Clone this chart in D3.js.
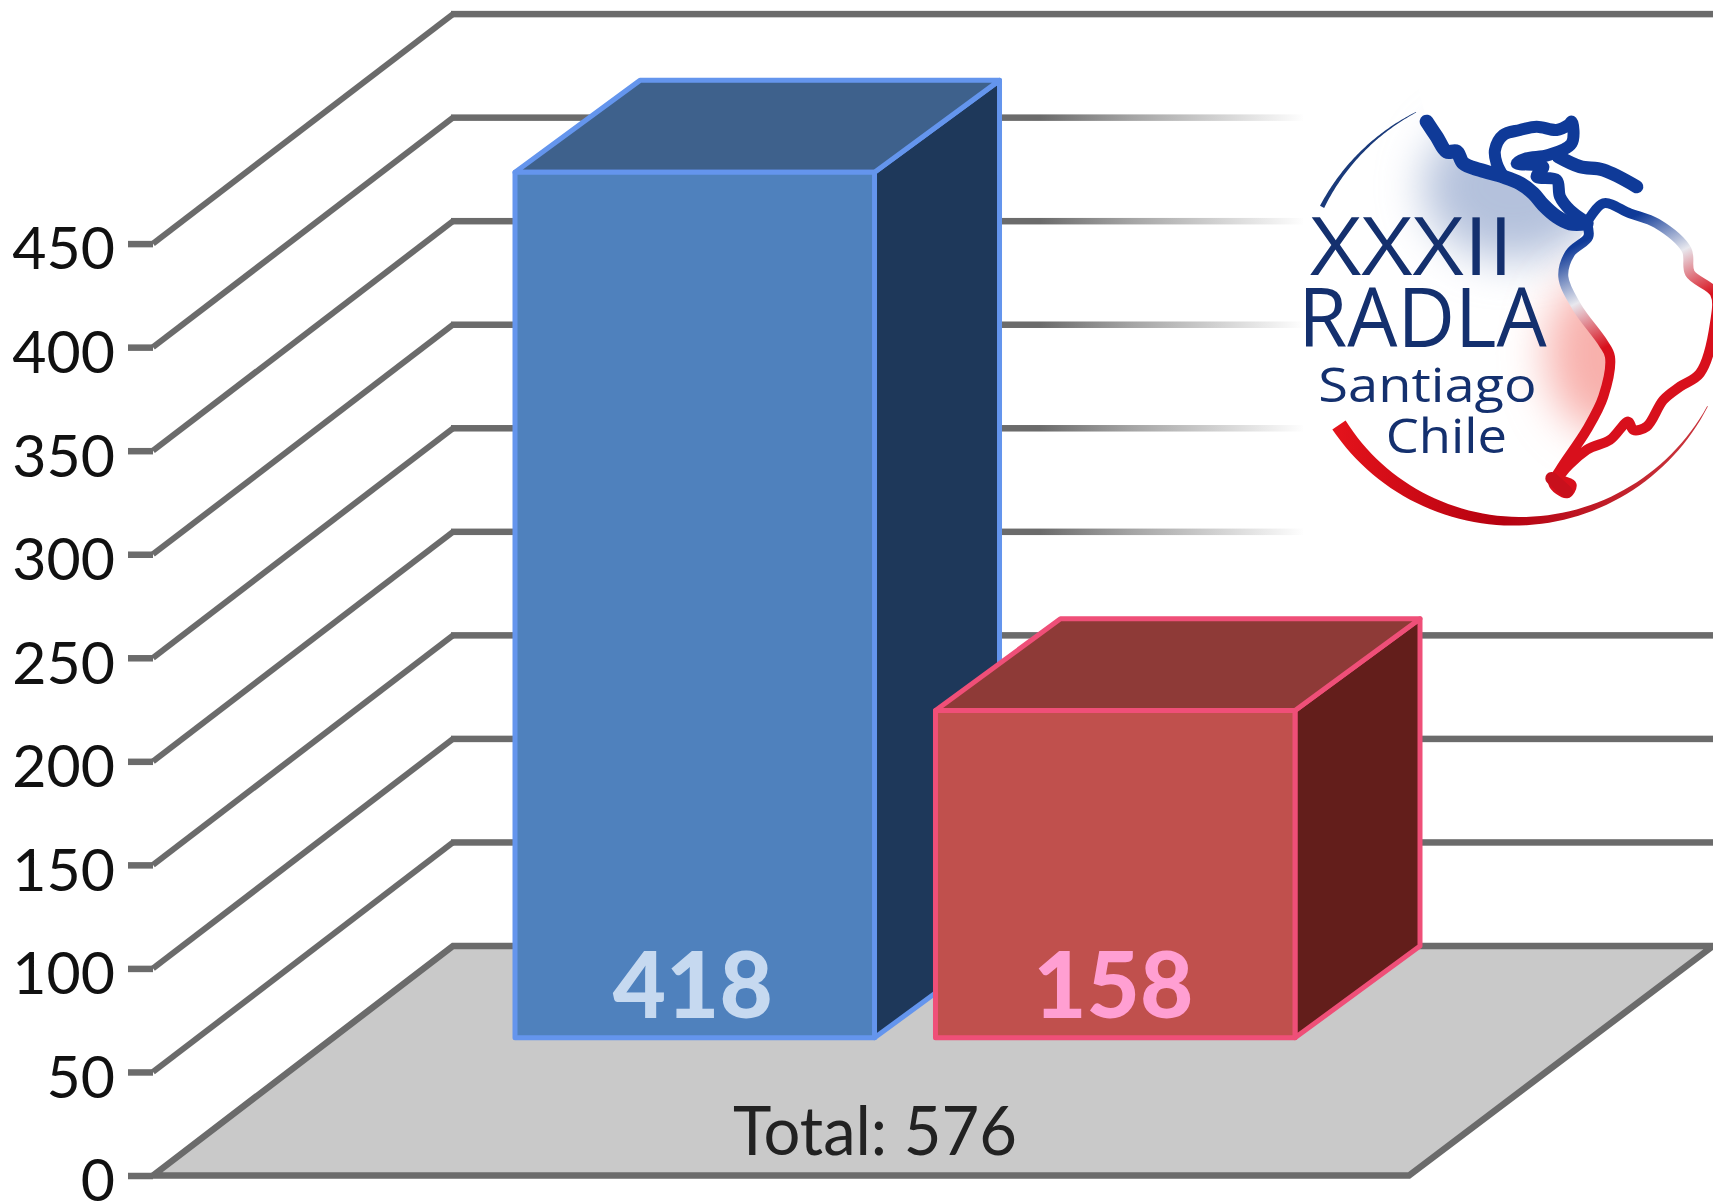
<!DOCTYPE html>
<html>
<head>
<meta charset="utf-8">
<script src="https://cdn.jsdelivr.net/npm/d3@7"></script>
<style>
html, body { margin: 0; padding: 0; background: #fff; }
svg { display: block; }
text { font-family: Lato, "Open Sans", sans-serif; }
</style>
</head>
<body>
<div id="drawing"></div>
<script>
// chart values
const categories = ["A", "B"];
const values = [418, 158];
const yTicks = [0, 50, 100, 150, 200, 250, 300, 350, 400, 450];
const fadedTicks = [200, 250, 300, 350, 400];
const totalLabel = "Total: 576";

// logo text
const logoLines = ["XXXII", "RADLA", "Santiago", "Chile"];

const width = 1713;
const height = 1201;

// the 3d box: how far the back wall is shifted from the front plane
const depthX = 300;
const depthY = 229.5;
const barFrontDepth = 0.6;
const barDepthX = 125;
const floorLeft = 153;
const floorRight = 1409;

const gridColor = "#6b6b6b";
const fronts = ["#4f81bd", "#c0504d"];
const tops = ["#3e618c", "#8e3a37"];
const sides = ["#1e385a", "#631e1b"];
const edges = ["#6495ed", "#ef4f78"];
const labelColors = ["#c6d9f0", "#ff9fd2"];

const svg = d3.select("#drawing").append("svg")
    .attr("width", width)
    .attr("height", height);
const defs = svg.append("defs");

const y = d3.scaleLinear().domain([0, 450]).range([1175.5, 243.6]);
const x = d3.scaleBand().domain(categories).range([335, 1115]).paddingInner(0.145);

// screen position of a point: px on the front plane, value, depth 0..1
function project(px, v, d) {
    return [px + d * depthX, y(v) - d * depthY];
}

// back corner of a bar, slightly deeper in x than the floor would give
function barBack(px, v) {
    return [px + barFrontDepth * depthX + barDepthX, y(v) - depthY];
}

const line = d3.line();

// floor
svg.append("path")
    .attr("d", line([
        project(floorLeft, 0, 0),
        project(floorLeft, 0, 1),
        project(floorRight + 4, 0, 1),
        project(floorRight, 0, 0)
    ]) + "Z")
    .attr("fill", "#c9c9c9")
    .attr("stroke", gridColor)
    .attr("stroke-width", 6.5);

// grid lines on the side and back walls
const fade = defs.append("linearGradient")
    .attr("id", "fade")
    .attr("gradientUnits", "userSpaceOnUse")
    .attr("x1", 1040).attr("x2", 1305).attr("y1", 0).attr("y2", 0);
fade.append("stop").attr("offset", 0).attr("stop-color", gridColor);
fade.append("stop").attr("offset", 0.35).attr("stop-color", "#a5a5a5");
fade.append("stop").attr("offset", 1).attr("stop-color", "#ffffff");

svg.append("g").selectAll("path")
    .data(yTicks.filter(v => v > 0))
    .join("path")
    .attr("d", v => line([project(floorLeft, v, 0), project(floorLeft, v, 1)]))
    .attr("fill", "none")
    .attr("stroke", gridColor)
    .attr("stroke-width", 6);

svg.append("g").selectAll("rect")
    .data(yTicks.filter(v => v > 0))
    .join("rect")
    .attr("x", project(floorLeft, 0, 1)[0] - 2)
    .attr("y", v => project(floorLeft, v, 1)[1] - 3.25)
    .attr("width", v => fadedTicks.includes(v) ? 1305 - project(floorLeft, 0, 1)[0] : width)
    .attr("height", 6.5)
    .attr("fill", v => fadedTicks.includes(v) ? "url(#fade)" : gridColor);

// y axis
const axis = svg.append("g")
    .attr("transform", `translate(${floorLeft},0)`)
    .call(d3.axisLeft(y).tickValues(yTicks).tickSize(25).tickPadding(13).tickFormat(d3.format("d")));
axis.select(".domain").remove();
axis.selectAll(".tick line")
    .attr("stroke", gridColor)
    .attr("stroke-width", 6.5);
axis.selectAll(".tick text")
    .attr("fill", "#111")
    .attr("dy", "0.43em")
    .style("font-family", "Lato, sans-serif")
    .style("font-size", "59px");

// bars
const bars = svg.append("g").selectAll("g")
    .data(categories)
    .join("g");

bars.each(function (c, i) {
    const g = d3.select(this);
    const x0 = x(c);
    const x1 = x(c) + x.bandwidth();
    const v = values[i];
    const d0 = barFrontDepth;
    const box = [
        // side
        { pts: [project(x1, 0, d0), barBack(x1, 0), barBack(x1, v), project(x1, v, d0)], fill: sides[i] },
        // top
        { pts: [project(x0, v, d0), barBack(x0, v), barBack(x1, v), project(x1, v, d0)], fill: tops[i] },
        // front
        { pts: [project(x0, 0, d0), project(x0, v, d0), project(x1, v, d0), project(x1, 0, d0)], fill: fronts[i] }
    ];
    g.selectAll("path")
        .data(box)
        .join("path")
        .attr("d", d => line(d.pts) + "Z")
        .attr("fill", d => d.fill)
        .attr("stroke", edges[i])
        .attr("stroke-width", 5)
        .attr("stroke-linejoin", "round");
    g.append("text")
        .attr("x", (project(x0, 0, d0)[0] + project(x1, 0, d0)[0]) / 2 - 2)
        .attr("y", project(x0, 0, d0)[1] - 20)
        .attr("text-anchor", "middle")
        .attr("fill", labelColors[i])
        .style("font-weight", 900)
        .style("font-size", "92px")
        .text(values[i]);
});

// total label on the floor
svg.append("text")
    .attr("x", 875)
    .attr("y", 1155)
    .attr("text-anchor", "middle")
    .attr("textLength", 284)
    .attr("lengthAdjust", "spacingAndGlyphs")
    .attr("fill", "#222")
    .style("font-size", "68px")
    .text(totalLabel);

drawLogo();

function drawLogo() {
    // logo is drawn in the coordinates of the 3x crop, then scaled down
    const logo = svg.append("g").attr("transform", "translate(1250,80) scale(0.3333)");
    const cx = 790, cy = 682, r = 655;

    const blur = defs.append("filter").attr("id", "soft")
        .attr("x", "-50%").attr("y", "-50%").attr("width", "200%").attr("height", "200%");
    blur.append("feGaussianBlur").attr("stdDeviation", 65);

    const coast = defs.append("linearGradient")
        .attr("id", "coast")
        .attr("gradientUnits", "userSpaceOnUse")
        .attr("x1", 1070).attr("y1", 450).attr("x2", 1210).attr("y2", 730);
    coast.append("stop").attr("offset", 0).attr("stop-color", "#0f3a98");
    coast.append("stop").attr("offset", 0.5).attr("stop-color", "#e8e8ee");
    coast.append("stop").attr("offset", 1).attr("stop-color", "#d8101c");

    const curve = d3.line().curve(d3.curveCatmullRom.alpha(0.5));

    // ocean haze, only on the west side of the coast
    const ocean = [[100, 0], [500, 0], [530, 125], [630, 240], [760, 290], [880, 370], [950, 430], [1010, 440],
        [960, 520], [940, 590], [980, 680], [1060, 790], [1080, 830], [1060, 950], [1010, 1050],
        [930, 1170], [700, 1300], [100, 1300]];
    defs.append("clipPath").attr("id", "ocean")
        .append("path").attr("d", line(ocean) + "Z");
    const haze = logo.append("g").attr("clip-path", "url(#ocean)");
    haze.append("ellipse")
        .attr("cx", 790).attr("cy", 320).attr("rx", 270).attr("ry", 220)
        .attr("fill", "#b4c1dc").attr("filter", "url(#soft)");
    haze.append("ellipse")
        .attr("cx", 1070).attr("cy", 820).attr("rx", 180).attr("ry", 240)
        .attr("fill", "#f8b0ac").attr("filter", "url(#soft)");

    // tapered circle arcs
    function crescent(a0, a1, w0, w1) {
        const n = 60;
        const outer = d3.range(n + 1).map(i => {
            const a = (a0 + (a1 - a0) * i / n) * Math.PI / 180;
            return [cx + r * Math.cos(a), cy + r * Math.sin(a)];
        });
        const inner = d3.range(n + 1).map(i => {
            const a = (a0 + (a1 - a0) * i / n) * Math.PI / 180;
            const w = w0 + (w1 - w0) * i / n;
            return [cx + (r - w) * Math.cos(a), cy + (r - w) * Math.sin(a)];
        }).reverse();
        return line(outer.concat(inner)) + "Z";
    }
    const redArc = defs.append("linearGradient")
        .attr("id", "redArc")
        .attr("gradientUnits", "userSpaceOnUse")
        .attr("x1", 240).attr("y1", 1050).attr("x2", 1300).attr("y2", 1100);
    redArc.append("stop").attr("offset", 0).attr("stop-color", "#e5141c");
    redArc.append("stop").attr("offset", 0.5).attr("stop-color", "#b5000f");
    redArc.append("stop").attr("offset", 1).attr("stop-color", "#c8323a");

    logo.append("path").attr("d", crescent(207.7, 243.5, 14, 2)).attr("fill", "#1a3a7a");
    logo.append("path").attr("d", crescent(146, 27, 48, 2)).attr("fill", "url(#redArc)");

    // coast lines
    const westCoast = [[530, 125], [560, 170], [590, 215], [620, 215], [640, 250], [690, 270], [760, 290],
        [810, 310], [850, 340], [880, 375], [920, 410], [960, 430], [1010, 430]];
    const southAmerica = [[1010, 430], [1015, 470], [960, 520], [940, 590], [980, 680], [1060, 790], [1080, 830],
        [1060, 950], [1010, 1050], [930, 1170], [910, 1210], [950, 1240], [965, 1215], [930, 1195],
        [1010, 1110], [1080, 1080], [1135, 1025], [1150, 1050], [1190, 1040], [1240, 960], [1290, 920], [1350, 880],
        [1395, 730], [1395, 640], [1320, 580], [1310, 510], [1220, 430], [1140, 400], [1060, 370], [1010, 430]];
    const gulf = [[760, 290], [740, 250], [735, 210], [760, 165], [810, 150], [860, 140], [920, 150], [955, 135],
        [965, 125], [965, 190], [895, 225], [830, 235], [800, 250], [880, 260], [860, 290], [920, 300], [930, 350],
        [960, 390], [1000, 420]];
    const cuba = [[925, 230], [990, 260], [1060, 270], [1160, 320]];
    const tip = [[905, 1195], [950, 1235]];

    logo.selectAll("path.coast")
        .data([westCoast, gulf, cuba, southAmerica, tip])
        .join("path")
        .attr("class", "coast")
        .attr("d", d => curve(d))
        .attr("fill", "none")
        .attr("stroke", (d, i) => i === 4 ? "#c8101c" : "url(#coast)")
        .attr("stroke-linecap", "round")
        .attr("stroke-linejoin", "round")
        .attr("stroke-width", (d, i) => [42, 36, 40, 30, 38][i]);

    // logo text
    const textSpec = [
        { x: 180, y: 585, w: 610, size: 240 },
        { x: 145, y: 800, w: 745, size: 245 },
        { x: 205, y: 965, w: 655, size: 140 },
        { x: 407, y: 1120, w: 364, size: 140 }
    ];
    logo.selectAll("text")
        .data(logoLines)
        .join("text")
        .attr("x", (d, i) => textSpec[i].x)
        .attr("y", (d, i) => textSpec[i].y)
        .attr("textLength", (d, i) => textSpec[i].w)
        .attr("lengthAdjust", "spacingAndGlyphs")
        .attr("fill", "#14306e")
        .style("font-family", "'Open Sans', sans-serif")
        .style("font-weight", 400)
        .style("font-size", (d, i) => textSpec[i].size + "px")
        .text(d => d);
}
</script>
</body>
</html>
